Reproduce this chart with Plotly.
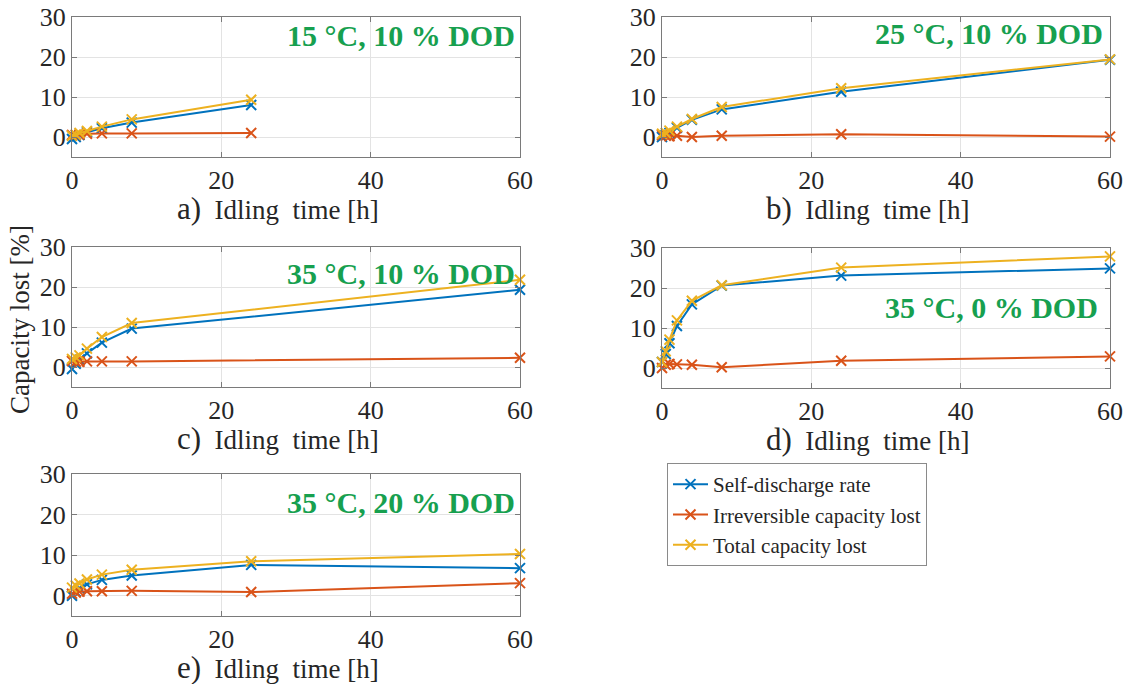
import plotly.graph_objects as go

W, H = 1131, 684

# ---- data ----
t_full = [0, 0.5, 1, 2, 4, 8, 24, 60]
t_a = [0, 0.5, 1, 2, 4, 8, 24]

a_self = [-0.5, 0.0, 0.5, 1.2, 2.2, 3.6, 8.0]
a_irrev = [0.5, 0.5, 0.6, 0.8, 0.9, 0.9, 1.0]
a_total = [0.3, 0.6, 1.0, 1.5, 2.6, 4.4, 9.3]

b_self = [0.0, 0.5, 1.0, 2.3, 4.3, 6.9, 11.3, 19.3]
b_irrev = [0.5, 0.3, 0.2, 0.3, 0.0, 0.3, 0.7, 0.1]
b_total = [0.8, 1.0, 1.6, 2.6, 4.5, 7.5, 12.2, 19.4]

c_self = [-0.5, 0.8, 1.8, 3.4, 6.1, 9.6, None, 19.3]
c_irrev = [1.5, 1.3, 1.3, 1.4, 1.4, 1.4, None, 2.3]
c_total = [2.0, 2.4, 2.9, 4.6, 7.5, 11.0, None, 21.8]

d_self = [1.5, 3.5, 6.2, 10.5, 15.9, 20.6, 23.1, 24.9]
d_irrev = [0.0, 0.8, 1.0, 0.9, 0.8, 0.2, 1.8, 2.9]
d_total = [1.5, 4.2, 7.1, 11.9, 16.8, 20.7, 25.1, 27.9]

e_self = [0.0, 1.0, 1.8, 2.8, 3.9, 5.0, 7.6, 6.8]
e_irrev = [0.5, 0.8, 1.0, 1.1, 1.1, 1.2, 0.9, 3.1]
e_total = [2.0, 2.5, 3.0, 4.0, 5.2, 6.4, 8.5, 10.3]

series_names = ["Self-discharge rate", "Irreversible capacity lost", "Total capacity lost"]
series_colors = ["#0072BD", "#D95319", "#EDB120"]

panels = [
    ("a)", "15 °C, 10 % DOD", t_a, [a_self, a_irrev, a_total]),
    ("b)", "25 °C, 10 % DOD", t_full, [b_self, b_irrev, b_total]),
    ("c)", "35 °C, 10 % DOD", t_full, [c_self, c_irrev, c_total]),
    ("d)", "35 °C, 0 % DOD", t_full, [d_self, d_irrev, d_total]),
    ("e)", "35 °C, 20 % DOD", t_full, [e_self, e_irrev, e_total]),
]

x_ticks = [0, 20, 40, 60]
y_ticks = [0, 10, 20, 30]

# ---- layout geometry (pixels) ----
boxes = [  # x0, x1, ytop, ybottom
    (72, 520, 17, 157),
    (662, 1110, 17, 157),
    (72, 520, 247, 387),
    (662, 1110, 248, 388),
    (72, 520, 474, 616),
]
label_pos = [  # (x right edge, y center) for green text
    (517, 36), (1105, 33), (517, 273), (1100, 308), (517, 502),
]

FONT = "Liberation Serif, Times New Roman, serif"
GREEN = "#17A04F"

fig = go.Figure()
layout = dict(
    width=W, height=H, margin=dict(l=0, r=0, t=0, b=0, autoexpand=False),
    paper_bgcolor="white", plot_bgcolor="white",
    font=dict(family=FONT, size=26, color="#262626"),
    showlegend=True,
    legend=dict(x=667 / W, y=1 - 463 / H, xanchor="left", yanchor="top",
                bgcolor="white", bordercolor="#8a8a8a", borderwidth=1,
                font=dict(family=FONT, size=21, color="#262626"),
                itemwidth=35, tracegroupgap=0),
)
annotations = []

for i, (tag, cond, tt, vals) in enumerate(panels):
    n = i + 1
    xa = "xaxis" if n == 1 else f"xaxis{n}"
    ya = "yaxis" if n == 1 else f"yaxis{n}"
    xr = "x" if n == 1 else f"x{n}"
    yr = "y" if n == 1 else f"y{n}"
    x0, x1, yt, yb = boxes[i]
    common = dict(showgrid=True, gridcolor="#e3e3e3", gridwidth=1, automargin=False,
                  showline=True, linecolor="#7a7a7a", linewidth=1, mirror="ticks",
                  ticks="inside", ticklen=5, tickcolor="#7a7a7a", zeroline=False,
                  tickfont=dict(family=FONT, size=26, color="#262626"))
    layout[xa] = dict(domain=[x0 / W, x1 / W], anchor=yr, range=[0, 60],
                      tickvals=x_ticks, **common)
    layout[ya] = dict(domain=[1 - yb / H, 1 - yt / H], anchor=xr, range=[-5, 30],
                      tickvals=y_ticks, **common)
    for k, v in enumerate(vals):
        fig.add_trace(go.Scatter(
            x=tt, y=v, xaxis=xr, yaxis=yr, mode="lines+markers",
            name=series_names[k], showlegend=(i == 0), connectgaps=True,
            line=dict(color=series_colors[k], width=2),
            marker=dict(symbol="x-thin", size=10, line=dict(color=series_colors[k], width=2)),
            cliponaxis=False,
        ))
    gx, gy = label_pos[i]
    annotations.append(dict(xref="paper", yref="paper", x=gx / W, y=1 - gy / H,
                            xanchor="right", yanchor="middle", showarrow=False,
                            text=f"<b>{cond}</b>",
                            font=dict(family=FONT, size=30, color=GREEN)))
    annotations.append(dict(xref="paper", yref="paper", x=((x0 + x1) / 2 - 18) / W,
                            y=1 - (yb + 51) / H, xanchor="center", yanchor="middle",
                            showarrow=False,
                            text=f"<span style='font-size:31px'>{tag}</span>&nbsp; Idling&nbsp; time [h]",
                            font=dict(family=FONT, size=27, color="#262626")))

annotations.append(dict(xref="paper", yref="paper", x=20 / W, y=1 - 320 / H,
                        xanchor="center", yanchor="middle", showarrow=False,
                        textangle=-90, text="Capacity lost [%]",
                        font=dict(family=FONT, size=27, color="#262626")))
layout["annotations"] = annotations
fig.update_layout(**layout)
fig.write_html("out.html")
